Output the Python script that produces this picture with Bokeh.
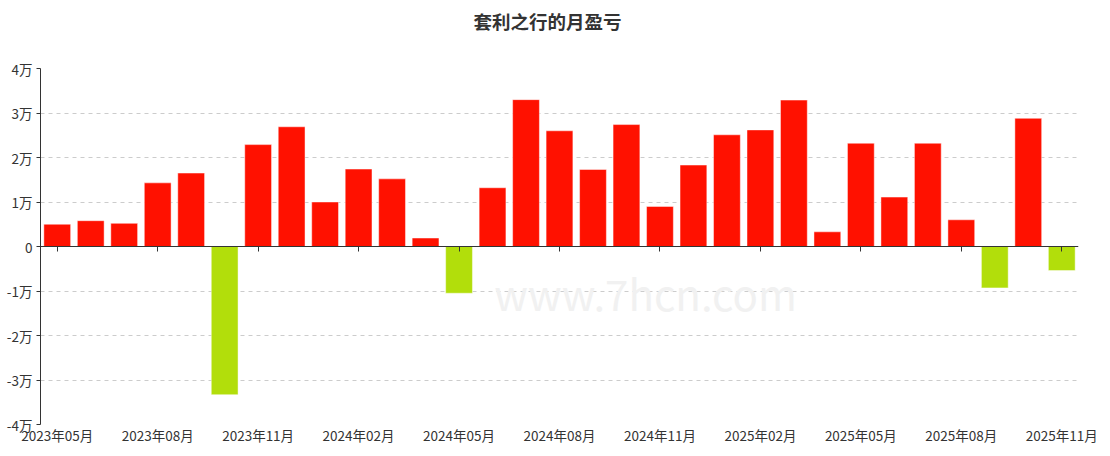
from bokeh.plotting import figure
from bokeh.models import FixedTicker, LinearAxis, Range1d, ColumnDataSource, Label, Title
from bokeh.embed import file_html
from bokeh.resources import INLINE

# ---- data (monthly profit/loss, unit: 万) ----
months = [
    "2023年05月", "2023年06月", "2023年07月", "2023年08月", "2023年09月", "2023年10月",
    "2023年11月", "2023年12月", "2024年01月", "2024年02月", "2024年03月", "2024年04月",
    "2024年05月", "2024年06月", "2024年07月", "2024年08月", "2024年09月", "2024年10月",
    "2024年11月", "2024年12月", "2025年01月", "2025年02月", "2025年03月", "2025年04月",
    "2025年05月", "2025年06月", "2025年07月", "2025年08月", "2025年09月", "2025年10月",
    "2025年11月",
]
pnl_wan = [
    0.50, 0.58, 0.52, 1.43, 1.65, -3.33,
    2.29, 2.69, 1.00, 1.74, 1.52, 0.19,
    -1.05, 1.32, 3.30, 2.60, 1.73, 2.74,
    0.90, 1.83, 2.51, 2.62, 3.29, 0.33,
    2.32, 1.11, 2.32, 0.60, -0.93, 2.88,
    -0.54,
]
y_ticks = [-4, -3, -2, -1, 0, 1, 2, 3, 4]
y_tick_labels = ["-4万", "-3万", "-2万", "-1万", "0", "1万", "2万", "3万", "4万"]
label_every = 3

title_text = "套利之行的月盈亏"
watermark = "www.7hcn.com"

POS_COLOR = "#ff1100"
NEG_COLOR = "#b2de0b"
FONT = "Noto Sans CJK SC"

n = len(months)
xs = [i + 0.5 for i in range(n)]
colors = [POS_COLOR if v >= 0 else NEG_COLOR for v in pnl_wan]
src = ColumnDataSource(dict(x=xs, top=pnl_wan, color=colors, month=months))

p = figure(
    width=1100, height=450,
    x_range=Range1d(0, n), y_range=Range1d(y_ticks[0], y_ticks[-1]),
    output_backend="svg", toolbar_location=None, tools="",
    min_border_left=40, min_border_right=22, min_border_top=68, min_border_bottom=26,
    x_axis_location="below",
)
p.outline_line_color = None
p.background_fill_color = "white"
p.border_fill_color = "white"

xa = p.below[0]
ya = p.left[0]

tick_pos = [xs[i] for i in range(0, n, label_every)]
overrides = {xs[i]: months[i] for i in range(0, n, label_every)}

# bottom axis: month labels only
xa.ticker = FixedTicker(ticks=tick_pos)
xa.major_label_overrides = overrides
xa.axis_line_color = None
xa.major_tick_line_color = None
xa.minor_tick_line_color = None
xa.major_tick_out = 0
xa.major_tick_in = 0
xa.major_label_standoff = 0
xa.major_label_text_font = FONT
xa.major_label_text_font_size = "13.5px"
xa.major_label_text_color = "#333333"

# zero axis line with downward ticks (placed in the "above" panel so it uses no bottom space)
za = LinearAxis(ticker=FixedTicker(ticks=tick_pos), fixed_location=0,
                axis_line_color="#333333", axis_line_width=1,
                major_tick_line_color="#333333", major_tick_out=0, major_tick_in=5,
                minor_tick_line_color=None, major_label_text_font_size="0px",
                major_label_standoff=0, major_label_text_alpha=0)
za.major_label_overrides = {t: "" for t in tick_pos}
p.add_layout(za, "above")

# spacer between the plot frame and the title
spacer = Title(text=" ", text_font_size="1px", standoff=30)
p.add_layout(spacer, "above")

# title
p.title.text = title_text
p.title.align = "left"
p.title.offset = 433
p.title.vertical_align = "top"
p.title.text_font = FONT
p.title.text_font_size = "18.5px"
p.title.text_font_style = "bold"
p.title.text_color = "#333333"
p.title.standoff = 0

# watermark
wm = Label(x=18.07, y=-1.03, text=watermark, text_font=FONT, text_font_size="42px",
           text_color="#f1f1f1", text_align="center", text_baseline="middle", level="underlay")
p.add_layout(wm)

# bars
p.vbar(x="x", top="top", bottom=0, width=0.8, fill_color="color", line_color="white",
       line_alpha=0.45, line_width=1, source=src)

# y axis
ya.ticker = FixedTicker(ticks=y_ticks)
ya.major_label_overrides = {t: l for t, l in zip(y_ticks, y_tick_labels)}
ya.axis_line_color = "#333333"
ya.major_tick_line_color = "#333333"
ya.major_tick_out = 4
ya.major_tick_in = 0
ya.minor_tick_line_color = None
ya.major_label_standoff = 4
ya.major_label_text_font = FONT
ya.major_label_text_font_size = "13.5px"
ya.major_label_text_color = "#333333"

# grids
p.xgrid.visible = False
p.ygrid.ticker = FixedTicker(ticks=y_ticks)
p.ygrid.grid_line_color = "#cccccc"
p.ygrid.grid_line_dash = "4 4"
p.ygrid.grid_line_width = 1

open("out.html", "w").write(file_html(p, INLINE))
